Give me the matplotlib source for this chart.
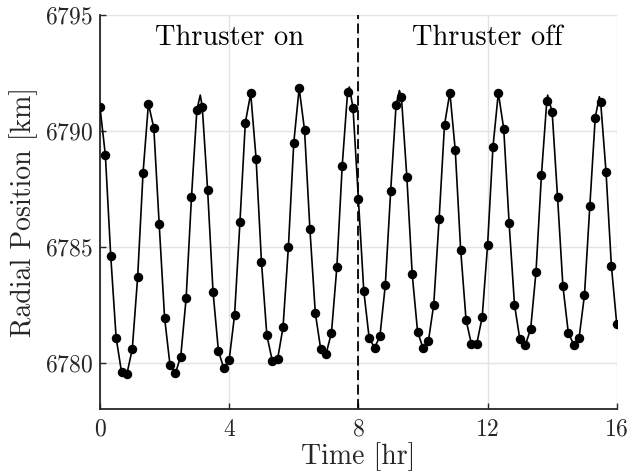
import numpy as np
import matplotlib
matplotlib.use("Agg")
import matplotlib.pyplot as plt

plt.rcParams['font.family'] = ['cmr10', 'DejaVu Serif']
plt.rcParams['mathtext.fontset'] = 'cm'
plt.rcParams['axes.formatter.use_mathtext'] = True

# measurement samples every 10 minutes (hr)
meas_t = np.arange(97) / 6.0
meas_r = [
    6791.03, 6788.96, 6784.60, 6781.07, 6779.60, 6779.51, 6780.59, 6783.70, 6788.19, 6791.18,
    6790.13, 6785.97, 6781.94, 6779.91, 6779.54, 6780.26, 6782.77, 6787.15, 6790.92, 6791.04,
    6787.44, 6783.06, 6780.51, 6779.75, 6780.12, 6782.05, 6786.07, 6790.36, 6791.62, 6788.80,
    6784.34, 6781.18, 6780.09, 6780.16, 6781.52, 6784.99, 6789.49, 6791.85, 6790.04, 6785.75,
    6782.14, 6780.59, 6780.38, 6781.29, 6784.12, 6788.51, 6791.69, 6791.01, 6787.08, 6783.11,
    6781.07, 6780.64, 6781.14, 6783.34, 6787.41, 6791.11, 6791.45, 6788.03, 6783.82, 6781.33,
    6780.64, 6780.92, 6782.51, 6786.20, 6790.27, 6791.66, 6789.16, 6784.88, 6781.85, 6780.79,
    6780.82, 6781.97, 6785.07, 6789.31, 6791.65, 6790.10, 6786.03, 6782.51, 6781.00, 6780.75,
    6781.45, 6783.93, 6788.08, 6791.29, 6790.81, 6787.14, 6783.29, 6781.29, 6780.78, 6781.07,
    6782.92, 6786.78, 6790.58, 6791.27, 6788.25, 6784.18, 6781.65,
]

# extra points of the true trajectory at its peaks
peak_t = [3.105, 7.72, 9.27, 13.86, 15.46]
peak_r = [6791.55, 6791.90, 6791.75, 6791.55, 6791.48]

switch_time = 8.0
xticks = [0, 4, 8, 12, 16]
yticks = [6780, 6785, 6790, 6795]

line_t = np.concatenate([meas_t, peak_t])
line_r = np.concatenate([meas_r, peak_r])
order = np.argsort(line_t)
line_t = line_t[order]
line_r = line_r[order]

fig = plt.figure(figsize=(6.30, 4.75), dpi=100)
ax = fig.add_axes([0.1587, 0.139, 0.8203, 0.829])

ax.plot(line_t, line_r, color='black', lw=1.2, zorder=3)
ax.plot(meas_t, meas_r, 'o', color='black', ms=5.8, zorder=4)
ax.axvline(switch_time, color='black', lw=1.3, ls=(0, (5.5, 2.5)), zorder=2)

ax.set_xlim(0, 16)
ax.set_ylim(6778, 6795)
ax.set_xticks(xticks)
ax.set_yticks(yticks)
ax.grid(True, color='#e3e3e3', lw=1.0, zorder=0)
ax.set_axisbelow(True)

for s in ['top', 'right']:
    ax.spines[s].set_visible(False)
for s in ['left', 'bottom']:
    ax.spines[s].set_color('#262626')
    ax.spines[s].set_linewidth(1.3)
ax.tick_params(direction='in', length=4, width=1.0, color='#262626',
               labelsize=17, labelcolor='#262626')
ax.tick_params(axis='x', pad=7)
ax.tick_params(axis='y', pad=5)

ax.set_xlabel('Time [hr]', fontsize=20, color='#262626', labelpad=1)
ax.set_ylabel('Radial Position [km]', fontsize=20, color='#262626', labelpad=5)

ax.text(4, 6793.70, 'Thruster on', fontsize=20.5, ha='center', va='baseline', color='black')
ax.text(12, 6793.70, 'Thruster off', fontsize=20.5, ha='center', va='baseline', color='black')

fig.savefig('out.png', dpi=100)
